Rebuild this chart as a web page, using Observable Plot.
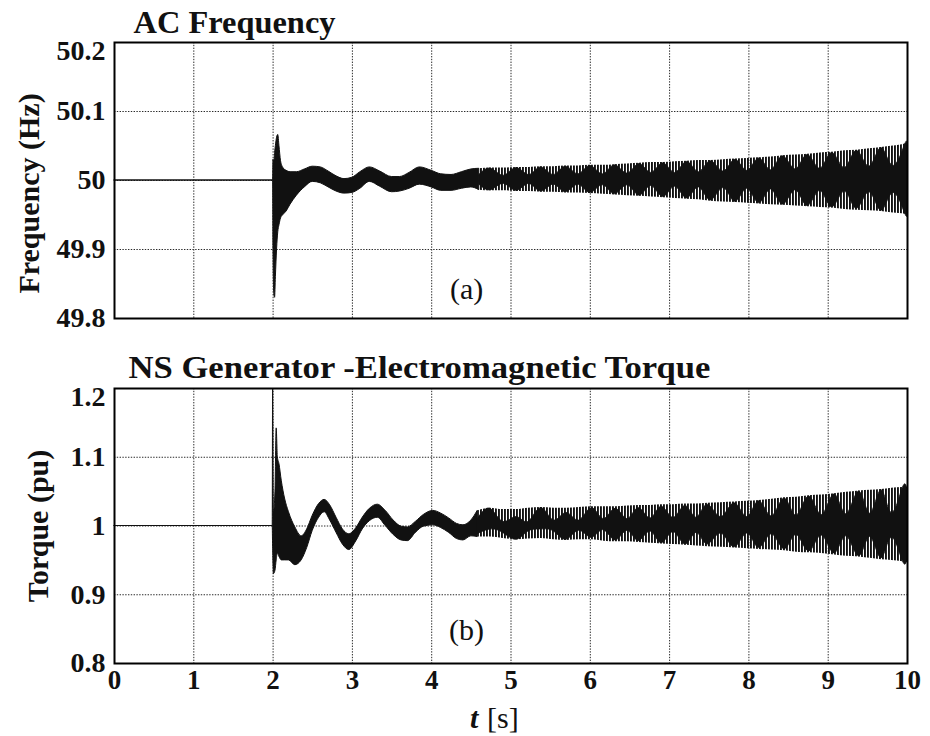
<!DOCTYPE html>
<html>
<head>
<meta charset="utf-8">
<script src="https://cdn.jsdelivr.net/npm/d3@7"></script>
<script src="https://cdn.jsdelivr.net/npm/@observablehq/plot@0.6"></script>
<style>
  html, body { margin: 0; padding: 0; background: #fff; }
  #chart { width: 930px; height: 736px; }
  #chart svg { display: block; }
</style>
</head>
<body>
<div id="chart"></div>
<script>
// ---------- shared axis data ----------
const timeTicks = [0, 1, 2, 3, 4, 5, 6, 7, 8, 9, 10];
const timeTickLabels = ["0", "1", "2", "3", "4", "5", "6", "7", "8", "9", "10"];
const timeGrid = [1, 2, 3, 4, 5, 6, 7, 8, 9];

// ---------- panel (a): AC frequency ----------
const freqTitle = "AC Frequency";
const freqAxisLabel = "Frequency (Hz)";
const freqTicks = [49.8, 49.9, 50, 50.1, 50.2];
const freqTickLabels = ["49.8", "49.9", "50", "50.1", "50.2"];
const freqGrid = [49.9, 50, 50.1];
const freqPanelLabel = [{t: 4.44, v: 49.842, label: "(a)"}];

// transient (envelope of the trace, 0 .. 4.6 s)
const freqTransientTime = [0, 2.0, 2.005, 2.015, 2.025, 2.035, 2.05, 2.065, 2.08, 2.10, 2.13, 2.17, 2.22, 2.30, 2.40, 2.50, 2.60, 2.70, 2.80, 2.90, 3.00, 3.10, 3.22, 3.35, 3.50, 3.60, 3.72, 3.85, 4.00, 4.12, 4.25, 4.38, 4.50, 4.60];
const freqTransientHi = [50, 50, 50.03, 50.025, 50.04, 50.05, 50.062, 50.066, 50.05, 50.028, 50.018, 50.014, 50.012, 50.012, 50.016, 50.02, 50.019, 50.013, 50.006, 50.002, 50.004, 50.012, 50.019, 50.013, 50.005, 50.005, 50.011, 50.019, 50.014, 50.009, 50.008, 50.012, 50.016, 50.017];
const freqTransientLo = [50, 50, 49.9, 49.835, 49.83, 49.86, 49.9, 49.925, 49.935, 49.945, 49.95, 49.955, 49.965, 49.978, 49.99, 49.998, 49.996, 49.99, 49.984, 49.981, 49.982, 49.988, 49.998, 49.991, 49.983, 49.984, 49.988, 49.994, 49.99, 49.985, 49.985, 49.988, 49.99, 49.986];

// beating oscillation (necks and lobes, 4.6 .. 10 s)
const freqSteadyTime = [4.60, 4.75, 4.91, 5.07, 5.23, 5.38, 5.54, 5.69, 5.85, 6.00, 6.16, 6.31, 6.47, 6.62, 6.77, 6.92, 7.07, 7.22, 7.37, 7.52, 7.68, 7.83, 7.98, 8.13, 8.28, 8.43, 8.59, 8.74, 8.90, 9.05, 9.21, 9.36, 9.52, 9.67, 9.82, 9.97, 10.0];
const freqOuterHi = [50.017, 50.018, 50.018, 50.019, 50.019, 50.020, 50.020, 50.021, 50.021, 50.022, 50.022, 50.023, 50.024, 50.025, 50.026, 50.026, 50.027, 50.028, 50.029, 50.029, 50.030, 50.031, 50.032, 50.033, 50.034, 50.036, 50.037, 50.038, 50.040, 50.041, 50.043, 50.044, 50.046, 50.048, 50.050, 50.053, 50.054];
const freqOuterLo = [49.986, 49.985, 49.985, 49.984, 49.984, 49.983, 49.983, 49.982, 49.982, 49.981, 49.980, 49.979, 49.978, 49.977, 49.976, 49.975, 49.974, 49.973, 49.972, 49.970, 49.969, 49.968, 49.967, 49.966, 49.965, 49.964, 49.963, 49.962, 49.961, 49.960, 49.958, 49.957, 49.956, 49.955, 49.953, 49.951, 49.950];
const freqBodyHi = [50.008, 50.017, 50.007, 50.018, 50.008, 50.019, 50.008, 50.020, 50.009, 50.021, 50.009, 50.022, 50.010, 50.024, 50.011, 50.025, 50.011, 50.027, 50.012, 50.028, 50.013, 50.030, 50.014, 50.032, 50.015, 50.035, 50.016, 50.037, 50.017, 50.040, 50.018, 50.043, 50.020, 50.047, 50.021, 50.052, 50.050];
const freqBodyLo = [49.994, 49.986, 49.995, 49.985, 49.995, 49.984, 49.994, 49.983, 49.994, 49.982, 49.993, 49.980, 49.993, 49.978, 49.992, 49.976, 49.991, 49.974, 49.990, 49.971, 49.989, 49.969, 49.988, 49.967, 49.987, 49.965, 49.986, 49.963, 49.985, 49.961, 49.984, 49.959, 49.983, 49.956, 49.982, 49.952, 49.953];

// ---------- panel (b): electromagnetic torque ----------
const torqueTitle = "NS Generator -Electromagnetic Torque";
const torqueAxisLabel = "Torque (pu)";
const torqueTicks = [0.8, 0.9, 1, 1.1, 1.2];
const torqueTickLabels = ["0.8", "0.9", "1", "1.1", "1.2"];
const torqueGrid = [0.9, 1, 1.1];
const torquePanelLabel = [{t: 4.44, v: 0.848, label: "(b)"}];

const torqueTransientTime = [0, 1.995, 2.0, 2.01, 2.03, 2.045, 2.06, 2.08, 2.11, 2.15, 2.20, 2.28, 2.36, 2.43, 2.50, 2.58, 2.65, 2.72, 2.80, 2.88, 2.96, 3.05, 3.13, 3.22, 3.32, 3.42, 3.52, 3.62, 3.70, 3.80, 3.90, 4.02, 4.12, 4.22, 4.32, 4.40, 4.50, 4.58];
const torqueTransientHi = [1, 1, 1.2, 1.02, 1.05, 1.142, 1.10, 1.09, 1.065, 1.04, 1.02, 0.998, 0.985, 0.995, 1.015, 1.032, 1.038, 1.03, 1.012, 0.995, 0.988, 0.997, 1.012, 1.025, 1.031, 1.022, 1.008, 0.999, 0.998, 1.006, 1.016, 1.022, 1.018, 1.011, 1.003, 1.001, 1.008, 1.022];
const torqueTransientLo = [1, 1, 0.97, 0.93, 0.935, 0.95, 0.96, 0.955, 0.95, 0.95, 0.95, 0.943, 0.95, 0.968, 0.993, 1.012, 1.02, 1.008, 0.99, 0.973, 0.965, 0.978, 0.995, 1.007, 1.012, 1.0, 0.987, 0.979, 0.978, 0.99, 0.999, 1.001, 0.997, 0.99, 0.981, 0.979, 0.985, 0.984];

const torqueSteadyTime = [4.58, 4.74, 4.90, 5.07, 5.22, 5.38, 5.54, 5.70, 5.86, 6.02, 6.17, 6.32, 6.47, 6.61, 6.76, 6.90, 7.05, 7.20, 7.34, 7.48, 7.65, 7.82, 7.98, 8.13, 8.29, 8.45, 8.60, 8.76, 8.92, 9.08, 9.23, 9.39, 9.53, 9.67, 9.80, 9.94, 10.0];
const torqueOuterHi = [1.022, 1.026, 1.024, 1.024, 1.026, 1.027, 1.026, 1.026, 1.027, 1.028, 1.028, 1.028, 1.029, 1.030, 1.030, 1.031, 1.031, 1.032, 1.032, 1.033, 1.034, 1.035, 1.036, 1.037, 1.039, 1.041, 1.042, 1.044, 1.045, 1.047, 1.049, 1.051, 1.052, 1.053, 1.055, 1.056, 1.056];
const torqueOuterLo = [0.984, 0.984, 0.982, 0.980, 0.981, 0.982, 0.980, 0.979, 0.980, 0.980, 0.978, 0.977, 0.977, 0.976, 0.975, 0.974, 0.973, 0.972, 0.971, 0.970, 0.969, 0.968, 0.967, 0.966, 0.965, 0.964, 0.962, 0.961, 0.960, 0.958, 0.956, 0.955, 0.953, 0.951, 0.950, 0.948, 0.947];
const torqueBodyHi = [1.010, 1.025, 1.006, 1.013, 1.006, 1.026, 1.008, 1.019, 1.008, 1.026, 1.010, 1.025, 1.010, 1.026, 1.011, 1.028, 1.012, 1.029, 1.012, 1.031, 1.013, 1.033, 1.013, 1.036, 1.014, 1.040, 1.015, 1.043, 1.016, 1.046, 1.017, 1.050, 1.018, 1.052, 1.019, 1.055, 1.053];
const torqueBodyLo = [0.988, 0.995, 0.990, 0.980, 0.992, 0.995, 0.992, 0.980, 0.993, 0.983, 0.994, 0.979, 0.993, 0.978, 0.992, 0.975, 0.991, 0.973, 0.990, 0.973, 0.989, 0.969, 0.989, 0.968, 0.988, 0.966, 0.987, 0.963, 0.986, 0.960, 0.985, 0.956, 0.984, 0.953, 0.983, 0.949, 0.951];

// ---------- helpers ----------
const FONT = "Liberation Serif, Times New Roman, serif";
const W = 930, ML = 114, MR = 23;

function table(time, cols) {
  return time.map((t, i) => {
    const row = {t};
    for (const k in cols) row[k] = cols[k][i];
    return row;
  });
}

function addStripes(svg, id) {
  const ns = "http://www.w3.org/2000/svg";
  const defs = document.createElementNS(ns, "defs");
  const pat = document.createElementNS(ns, "pattern");
  pat.setAttribute("id", id);
  pat.setAttribute("patternUnits", "userSpaceOnUse");
  pat.setAttribute("width", "3");
  pat.setAttribute("height", "20");
  const r = document.createElementNS(ns, "rect");
  r.setAttribute("x", "0"); r.setAttribute("y", "0");
  r.setAttribute("width", "1.9"); r.setAttribute("height", "20");
  r.setAttribute("fill", "#111");
  pat.appendChild(r);
  defs.appendChild(pat);
  svg.insertBefore(defs, svg.firstChild);
}

// stretch a text element to the width it has in the original figure
function fitText(svg, content, width) {
  svg.querySelectorAll("text").forEach(el => {
    if (el.textContent === content) {
      el.setAttribute("textLength", width);
      el.setAttribute("lengthAdjust", "spacingAndGlyphs");
    }
  });
}

function panel(opts) {
  const {height, marginTop, marginBottom, domain, ticks, tickLabels, grid,
         transient, steady, title, titleDx, titleDy, titleWidth, axisLabel, axisDx, axisDy,
         panelLabel, stripeId, showX} = opts;
  const marks = [
    // dotted grid
    Plot.ruleX(timeGrid, {stroke: "#2a2a2a", strokeWidth: 1, strokeDasharray: "1.4,1.4"}),
    Plot.ruleY(grid, {stroke: "#2a2a2a", strokeWidth: 1, strokeDasharray: "1.4,1.4"}),
    // transient envelope
    Plot.areaY(transient, {x: "t", y1: "lo", y2: "hi", fill: "#111", stroke: "#111", strokeWidth: 1, curve: "monotone-x"}),
    // high-frequency spikes (striped) and dense body (solid, rounded lobes)
    Plot.areaY(steady, {x: "t", y1: "outerLo", y2: "outerHi", fill: `url(#${stripeId})`, curve: "monotone-x"}),
    Plot.areaY(steady, {x: "t", y1: "bodyLo", y2: "bodyHi", fill: "#111", stroke: "#111", strokeWidth: 0.8, curve: "natural"}),
    Plot.frame({stroke: "#000", strokeWidth: 2}),
    // y tick labels (top label nudged into the panel as in the original)
    Plot.text(ticks.slice(0, 4), {y: d => d, text: (d, i) => tickLabels[i], frameAnchor: "left", textAnchor: "end", dx: -9,
      fontFamily: FONT, fontWeight: "bold", fontSize: 28, fill: "#111"}),
    Plot.text(ticks.slice(4), {y: d => d, text: () => tickLabels[4], frameAnchor: "left", textAnchor: "end", dx: -9, dy: 9,
      fontFamily: FONT, fontWeight: "bold", fontSize: 28, fill: "#111"}),
    // y axis label
    Plot.text([axisLabel], {text: d => d, frameAnchor: "left", rotate: -90, textAnchor: "middle", lineAnchor: "middle",
      dx: axisDx, dy: axisDy, fontFamily: FONT, fontWeight: "bold", fontSize: 30, fill: "#111"}),
    // title
    Plot.text([title], {text: d => d, frameAnchor: "top-left", textAnchor: "start", lineAnchor: "middle",
      dx: titleDx, dy: titleDy, fontFamily: FONT, fontWeight: "bold", fontSize: 31, fill: "#111"}),
    // panel label
    Plot.text(panelLabel, {x: "t", y: "v", text: "label", fontFamily: FONT, fontSize: 30, fill: "#111"})
  ];
  if (showX) {
    marks.push(
      Plot.text(timeTicks, {x: d => d, text: (d, i) => timeTickLabels[i], frameAnchor: "bottom", lineAnchor: "top", dy: 6,
        fontFamily: FONT, fontWeight: "bold", fontSize: 27, fill: "#111"}),
      Plot.text(["t"], {text: d => d, frameAnchor: "bottom", textAnchor: "start", lineAnchor: "middle", dx: -41, dy: 55,
        fontFamily: FONT, fontWeight: "bold", fontStyle: "italic", fontSize: 30, fill: "#111"}),
      Plot.text(["[s]"], {text: d => d, frameAnchor: "bottom", textAnchor: "start", lineAnchor: "middle", dx: -24, dy: 55,
        fontFamily: FONT, fontSize: 30, fill: "#111"})
    );
  }
  const svg = Plot.plot({
    width: W, height, marginLeft: ML, marginRight: MR, marginTop, marginBottom,
    style: {fontFamily: FONT, background: "#fff", color: "#111"},
    x: {domain: [0, 10], axis: null},
    y: {domain, axis: null},
    clip: false,
    marks
  });
  addStripes(svg, stripeId);
  fitText(svg, title, titleWidth);
  return svg;
}

const chart = document.getElementById("chart");

chart.appendChild(panel({
  height: 345, marginTop: 42, marginBottom: 27,
  domain: [49.8, 50.2], ticks: freqTicks, tickLabels: freqTickLabels, grid: freqGrid,
  transient: table(freqTransientTime, {hi: freqTransientHi, lo: freqTransientLo}),
  steady: table(freqSteadyTime, {outerHi: freqOuterHi, outerLo: freqOuterLo, bodyHi: freqBodyHi, bodyLo: freqBodyLo}),
  title: freqTitle, titleDx: 19, titleDy: -19.5, titleWidth: 202,
  axisLabel: freqAxisLabel, axisDx: -85, axisDy: 13,
  panelLabel: freqPanelLabel, stripeId: "stripesA", showX: false
}));

chart.appendChild(panel({
  height: 391, marginTop: 43, marginBottom: 73,
  domain: [0.8, 1.2], ticks: torqueTicks, tickLabels: torqueTickLabels, grid: torqueGrid,
  transient: table(torqueTransientTime, {hi: torqueTransientHi, lo: torqueTransientLo}),
  steady: table(torqueSteadyTime, {outerHi: torqueOuterHi, outerLo: torqueOuterLo, bodyHi: torqueBodyHi, bodyLo: torqueBodyLo}),
  title: torqueTitle, titleDx: 14, titleDy: -20.5, titleWidth: 582,
  axisLabel: torqueAxisLabel, axisDx: -76, axisDy: 0,
  panelLabel: torquePanelLabel, stripeId: "stripesB", showX: true
}));
</script>
</body>
</html>
